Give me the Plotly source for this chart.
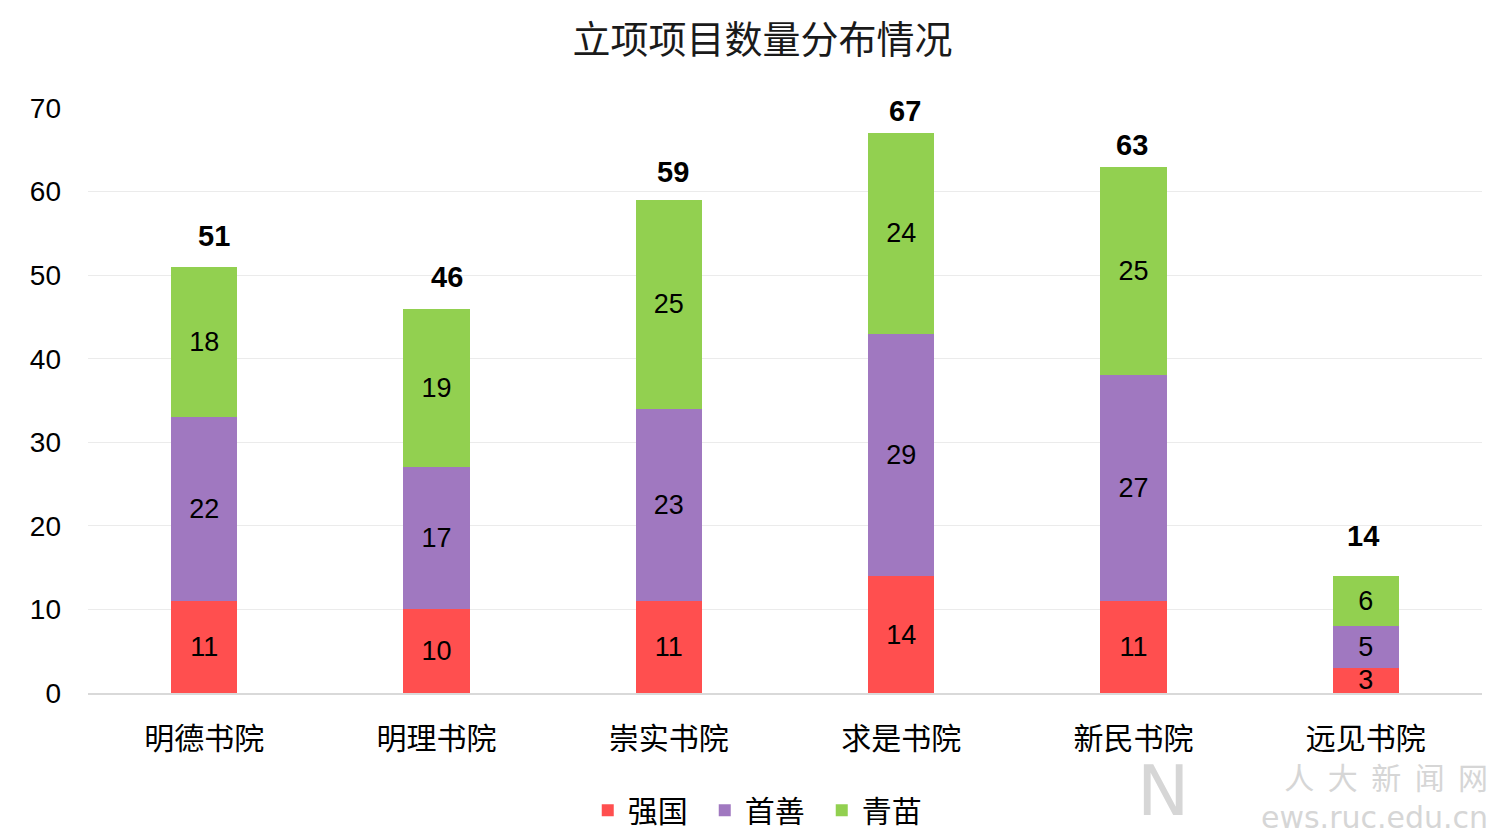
import plotly.graph_objects as go

categories = ["明德书院", "明理书院", "崇实书院", "求是书院", "新民书院", "远见书院"]
qiangguo = [11, 10, 11, 14, 11, 3]
shoushan = [22, 17, 23, 29, 27, 5]
qingmiao = [18, 19, 25, 24, 25, 6]
series_names = ["强国", "首善", "青苗"]
colors = ["#FF4F4F", "#A078C0", "#92D050"]
totals = [a + b + c for a, b, c in zip(qiangguo, shoushan, qingmiao)]

cjk = "Noto Sans CJK SC"
num_font = "Liberation Sans"

# label placement offsets (pixels) for the total labels
total_xshift = [10, 10, 4, 4, -2, -3]
total_yshift = [31, 32, 28, 22, 22, 40]

fig = go.Figure()
for name, vals, col in zip(series_names, [qiangguo, shoushan, qingmiao], colors):
    fig.add_trace(go.Bar(
        x=categories, y=vals, name=name,
        marker=dict(color=col, line=dict(width=0)),
        text=vals, textposition="inside", insidetextanchor="middle",
        constraintext="none", textangle=0,
        textfont=dict(family=num_font, size=27, color="#000000"),
        width=0.285,
    ))

for cat, t, xs, ys in zip(categories, totals, total_xshift, total_yshift):
    fig.add_annotation(x=cat, y=t, text="<b>%d</b>" % t, showarrow=False,
                       yanchor="middle", yshift=ys, xshift=xs,
                       font=dict(family=num_font, size=29, color="#000000"))

# watermark
wm_color = "#D6D6D6"
fig.add_annotation(xref="paper", yref="paper", x=0.771, y=-0.168, xanchor="center",
                   yanchor="middle", showarrow=False, text="N",
                   font=dict(family="DejaVu Sans", size=70, color=wm_color))
fig.add_annotation(xref="paper", yref="paper", x=1.0057, y=-0.173, xanchor="right",
                   yanchor="middle", showarrow=False, align="right",
                   text="人  大  新  闻  网<br><span style='font-family:DejaVu Sans'>ews.ruc.edu.cn</span>",
                   font=dict(family=cjk, size=30, color=wm_color))

fig.update_layout(
    width=1500, height=834,
    paper_bgcolor="white", plot_bgcolor="white",
    barmode="stack",
    title=dict(text="立项项目数量分布情况", x=0.503, xanchor="center", y=0.962, yanchor="middle",
               font=dict(family=cjk, size=38, color="#1a1a1a")),
    margin=dict(l=80, r=26, t=100, b=149, autoexpand=False),
    showlegend=True,
    legend=dict(orientation="h", x=0.3585, xanchor="left", yref="container", y=0.038,
                yanchor="middle", entrywidth=72, entrywidthmode="pixels",
                font=dict(family=cjk, size=30, color="#000000"), traceorder="normal",
                itemwidth=30),
    xaxis=dict(tickfont=dict(family=cjk, size=30, color="#000000"), automargin=False,
               showline=True, linecolor="#D9D9D9", linewidth=1.5, ticks="", showgrid=False,
               ticklabelstandoff=18),
    yaxis=dict(range=[0, 70], dtick=10, tickfont=dict(family=num_font, size=28, color="#000000"),
               showgrid=True, gridcolor="#EBEBEB", gridwidth=1, zeroline=False, automargin=False,
               ticks="", ticklabelstandoff=26),
)

fig.write_html("out.html")
